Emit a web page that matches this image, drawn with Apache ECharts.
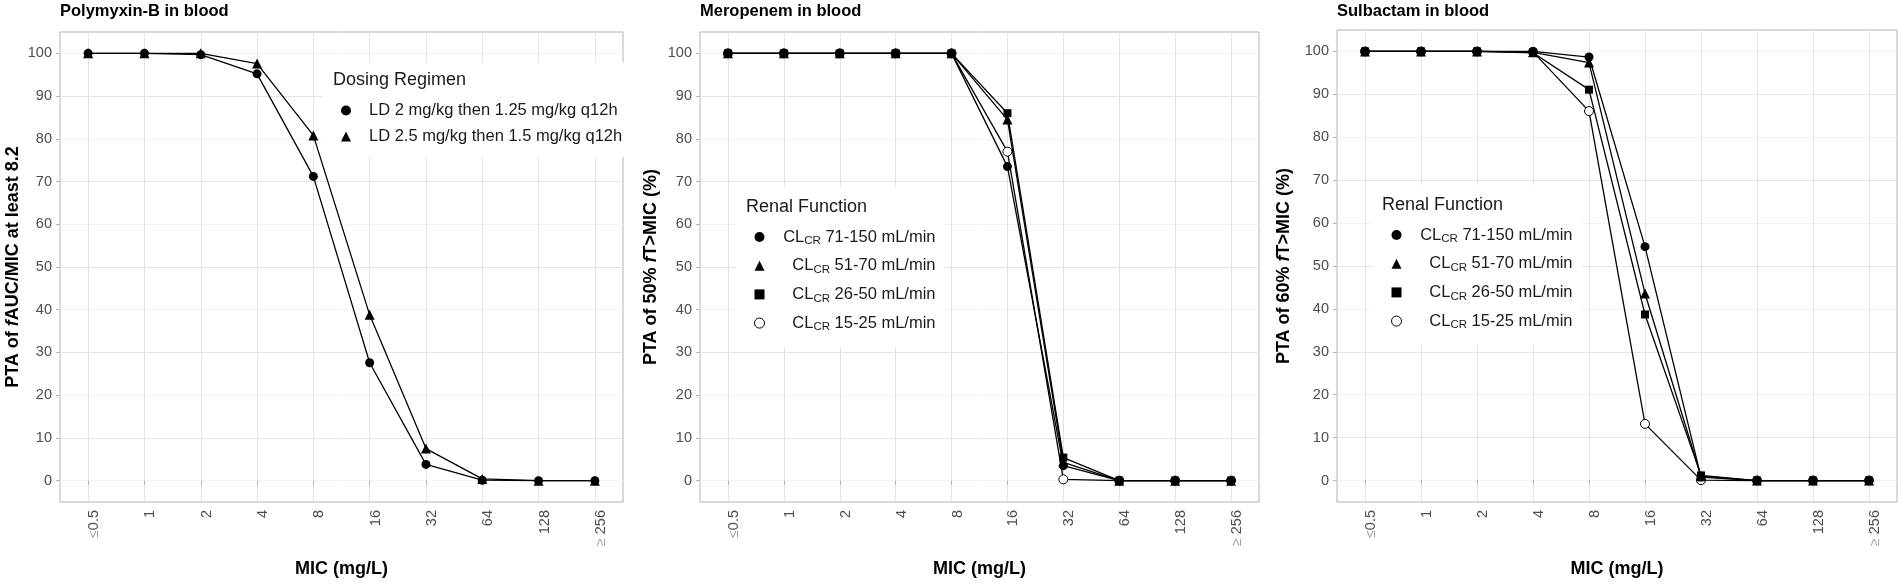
<!DOCTYPE html>
<html>
<head>
<meta charset="utf-8">
<script src="https://cdn.jsdelivr.net/npm/echarts@6/dist/echarts.min.js"></script>
<style>
  html, body { margin: 0; padding: 0; background: #fff; }
  #chart { width: 1902px; height: 585px; }
</style>
</head>
<body>
<div id="chart"></div>
<script>
const micLabels = ["≤0.5", "1", "2", "4", "8", "16", "32", "64", "128", "≥ 256"];
const yTicks = [0, 10, 20, 30, 40, 50, 60, 70, 80, 90, 100];

// Polymyxin-B, PTA of fAUC/MIC >= 8.2
const polyLd2 = [100, 100, 99.7, 95.2, 71.2, 27.6, 3.8, 0.1, 0, 0];
const polyLd25 = [100, 100, 100, 97.6, 80.8, 38.8, 7.5, 0.4, 0, 0];

// Meropenem, PTA of 50% fT>MIC
const mero71 = [100, 100, 100, 100, 100, 73.5, 3.5, 0, 0, 0];
const mero51 = [100, 100, 100, 100, 100, 84.5, 4.3, 0, 0, 0];
const mero26 = [100, 100, 100, 100, 100, 86.0, 5.4, 0, 0, 0];
const mero15 = [100, 100, 100, 100, 100, 77.0, 0.3, 0, 0, 0];

// Sulbactam, PTA of 60% fT>MIC
const sulb71 = [100, 100, 100, 100, 98.7, 54.5, 0.8, 0, 0, 0];
const sulb51 = [100, 100, 100, 99.8, 97.4, 43.6, 1.0, 0, 0, 0];
const sulb26 = [100, 100, 100, 99.7, 91.1, 38.7, 1.2, 0, 0, 0];
const sulb15 = [100, 100, 100, 99.9, 86.1, 13.2, 0.1, 0, 0, 0];

const regimenNames = ["LD 2 mg/kg then 1.25 mg/kg q12h", "LD 2.5 mg/kg then 1.5 mg/kg q12h"];
const renalNames = ["CLCR 71-150 mL/min", "CLCR 51-70 mL/min", "CLCR 26-50 mL/min", "CLCR 15-25 mL/min"];

const FONT = "'Liberation Sans', Arial, sans-serif";
const GRID_MAJOR = "#e4e4e4";
const GRID_MINOR = "#f3f3f3";
const BORDER = "#b3b3b3";
const LABEL = "#4d4d4d";

const chart = echarts.init(document.getElementById("chart"));

const grids = [
  { left: 60, top: 32, width: 563, height: 470 },
  { left: 700, top: 32, width: 559, height: 470 },
  { left: 1337, top: 30, width: 560, height: 472 },
];

const yNames = [
  "PTA of {i|f}AUC/MIC at least 8.2",
  "PTA of 50% {i|f}T>MIC (%)",
  "PTA of 60% {i|f}T>MIC (%)",
];
const yNameGaps = [38, 40, 44];

// marker styles, in legend order
const marks = [
  { symbol: "circle", size: 9, fill: "#000", border: 0 },
  { symbol: "triangle", size: 10, fill: "#000", border: 0 },
  { symbol: "rect", size: 8, fill: "#000", border: 0 },
  { symbol: "circle", size: 9, fill: "#fff", border: 1 },
];

function lineSeries(name, data, idx, mk) {
  return {
    name: name,
    type: "line",
    xAxisIndex: idx,
    yAxisIndex: idx,
    data: data,
    symbol: mk.symbol,
    symbolSize: mk.size,
    itemStyle: { color: mk.fill, borderColor: "#000", borderWidth: mk.border },
    lineStyle: { color: "#000", width: 1.3 },
    emphasis: { disabled: true },
    animation: false,
  };
}

function legendItems(names) {
  return names.map((n, i) => ({
    name: n,
    icon: marks[i].symbol,
    itemStyle: { color: marks[i].fill, borderColor: "#000", borderWidth: marks[i].border },
  }));
}

const renalRich = {
  n: { fontSize: 16.5, lineHeight: 20, color: "#1a1a1a", align: "right", fontFamily: FONT },
  s: { fontSize: 11.5, lineHeight: 20, color: "#1a1a1a", align: "right", verticalAlign: "bottom", padding: [8, 0, 0, 0], fontFamily: FONT },
};

function renalLegend(left, top) {
  return {
    left: left,
    top: top,
    orient: "vertical",
    data: legendItems(renalNames),
    itemWidth: 10,
    itemHeight: 10,
    itemGap: 8.7,
    padding: [40, 9, 14, 18],
    backgroundColor: "#fff",
    selectedMode: false,
    textStyle: { width: 166, rich: renalRich },
    formatter: (name) => "{n|CL}{s|CR}{n|" + name.replace("CLCR", "") + "}",
  };
}

const option = {
  animation: false,
  textStyle: { fontFamily: FONT },
  title: [
    { text: "Polymyxin-B in blood", left: 60, top: 3 },
    { text: "Meropenem in blood", left: 700, top: 3 },
    { text: "Sulbactam in blood", left: 1337, top: 3 },
  ].map((t) => ({
    ...t,
    padding: 0,
    textStyle: { fontSize: 16.5, fontWeight: "bold", color: "#000", fontFamily: FONT },
  })).concat([
    { text: "Dosing Regimen", left: 333, top: 71 },
    { text: "Renal Function", left: 746, top: 198 },
    { text: "Renal Function", left: 1382, top: 196 },
  ].map((t) => ({
    ...t,
    padding: 0,
    z: 10,
    textStyle: { fontSize: 18, fontWeight: "normal", color: "#1a1a1a", fontFamily: FONT },
  }))),
  legend: [
    {
      left: 322,
      top: 62,
      orient: "vertical",
      data: legendItems(regimenNames),
      itemWidth: 10,
      itemHeight: 10,
      itemGap: 9,
      padding: [40, 3, 12, 19],
      backgroundColor: "#fff",
      selectedMode: false,
      textStyle: {
        rich: { n: { fontSize: 16.5, lineHeight: 20, color: "#1a1a1a", padding: [0, 0, 0, 13], fontFamily: FONT } },
      },
      formatter: (name) => "{n|" + name + "}",
    },
    renalLegend(736, 187),
    renalLegend(1373, 185),
  ],
  grid: grids.map((g) => ({ ...g, show: true, borderColor: BORDER, borderWidth: 1, backgroundColor: "transparent" })),
  xAxis: grids.map((g, i) => ({
    gridIndex: i,
    type: "category",
    data: micLabels,
    boundaryGap: true,
    name: "MIC (mg/L)",
    nameLocation: "middle",
    nameGap: 58,
    nameTextStyle: { fontSize: 18, fontWeight: "bold", color: "#000", fontFamily: FONT },
    axisLine: { show: false },
    axisTick: { show: true, alignWithLabel: true, interval: 0, length: 4, lineStyle: { color: BORDER } },
    splitLine: { show: true, interval: 0, alignWithLabel: true, lineStyle: { color: GRID_MAJOR, width: 1 } },
    axisLabel: {
      interval: 0,
      rotate: 90,
      margin: 8,
      fontSize: 14.5,
      color: LABEL,
      verticalAlign: "top",
      lineHeight: 12,
      formatter: (v) => (v[0] === "≤" || v[0] === "≥" ? "{g|" + v[0] + "}" + v.slice(1) : v),
      rich: { g: { color: "#a3a3a3", fontSize: 14, lineHeight: 12 } },
    },
  })),
  yAxis: grids.map((g, i) => ({
    gridIndex: i,
    type: "value",
    min: -5,
    max: 105,
    interval: 5,
    name: yNames[i],
    nameLocation: "middle",
    nameGap: yNameGaps[i],
    nameTextStyle: {
      fontSize: 18,
      fontWeight: "bold",
      color: "#000",
      fontFamily: FONT,
      rich: { i: { fontSize: 18, fontWeight: "bold", fontStyle: "italic", color: "#000", fontFamily: FONT } },
    },
    axisLine: { show: false },
    axisTick: { show: true, customValues: yTicks, length: 4, lineStyle: { color: BORDER } },
    axisLabel: { customValues: yTicks, margin: 8, fontSize: 14.5, color: LABEL },
    splitLine: { show: true, lineStyle: { color: [GRID_MINOR, GRID_MAJOR], width: 1 } },
  })),
  // open-circle groups first so the filled markers sit on top
  series: [
    lineSeries(regimenNames[0], polyLd2, 0, marks[0]),
    lineSeries(regimenNames[1], polyLd25, 0, marks[1]),
    lineSeries(renalNames[3], mero15, 1, marks[3]),
    lineSeries(renalNames[0], mero71, 1, marks[0]),
    lineSeries(renalNames[1], mero51, 1, marks[1]),
    lineSeries(renalNames[2], mero26, 1, marks[2]),
    lineSeries(renalNames[3], sulb15, 2, marks[3]),
    lineSeries(renalNames[0], sulb71, 2, marks[0]),
    lineSeries(renalNames[1], sulb51, 2, marks[1]),
    lineSeries(renalNames[2], sulb26, 2, marks[2]),
  ],
};

chart.setOption(option);
</script>
</body>
</html>
